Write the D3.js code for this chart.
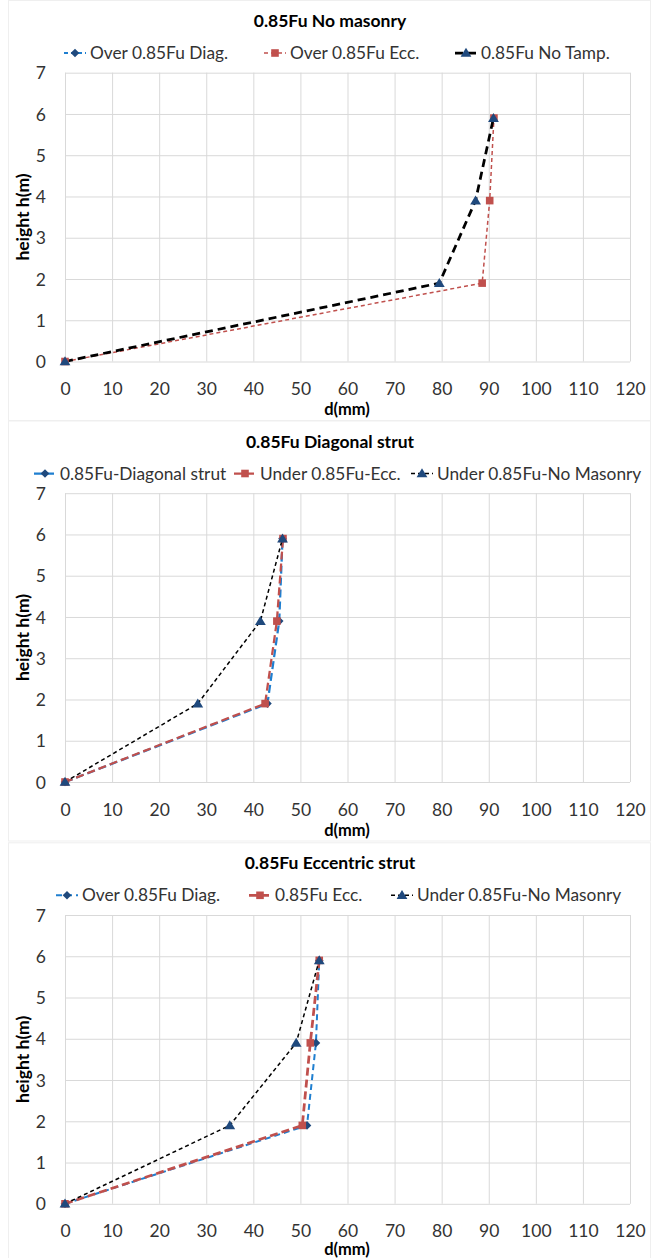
<!DOCTYPE html>
<html>
<head>
<meta charset="utf-8">
<script src="https://cdn.jsdelivr.net/npm/d3@7"></script>
<style>
  html, body { margin: 0; padding: 0; background: #fff; }
  svg { display: block; }
  text { font-family: Lato, "Open Sans", sans-serif; }
</style>
</head>
<body>
<svg id="chart" width="659" height="1258"></svg>
<script>
// Storey heights (m) at which lateral displacement was recorded
const heights = [0, 1.9, 3.9, 5.9];

// Axis ticks
const xTicks = [0, 10, 20, 30, 40, 50, 60, 70, 80, 90, 100, 110, 120];
const yTicks = [0, 1, 2, 3, 4, 5, 6, 7];

// Panel titles
const titles = ["0.85Fu No masonry", "0.85Fu Diagonal strut", "0.85Fu Eccentric strut"];

// Legend labels per panel
const legendNoMasonry = ["Over 0.85Fu Diag.", "Over 0.85Fu Ecc.", "0.85Fu No Tamp."];
const legendDiagonal = ["0.85Fu-Diagonal strut", "Under 0.85Fu-Ecc.", "Under 0.85Fu-No Masonry"];
const legendEccentric = ["Over 0.85Fu Diag.", "0.85Fu Ecc.", "Under 0.85Fu-No Masonry"];

// Displacements d (mm) at each height
const noMasonryDiag = [];
const noMasonryEcc = [0, 88.6, 90.2, 91.1];
const noMasonryNoTamp = [0, 79.5, 87.2, 91.0];

const diagonalDiag = [0, 43.0, 45.5, 46.2];
const diagonalEcc = [0, 42.5, 45.0, 46.3];
const diagonalNoMasonry = [0, 28.2, 41.5, 46.2];

const eccentricDiag = [0, 51.4, 53.3, 54.0];
const eccentricEcc = [0, 50.4, 52.1, 54.0];
const eccentricNoMasonry = [0, 35.0, 49.1, 54.0];

const BLUE = "#1F7FD0", RED = "#C0504D", BLACK = "#000000", NAVY = "#1F497D";

const panels = [
  {
    top: 0, title: titles[0], xTitleY: 409.5,
    series: [
      { label: legendNoMasonry[0], d: noMasonryDiag, color: BLUE, width: 2, dash: "4,3", marker: "diamond", lx: 64 },
      { label: legendNoMasonry[1], d: noMasonryEcc, color: RED, width: 1.5, dash: "4,3", marker: "square", lx: 264 },
      { label: legendNoMasonry[2], d: noMasonryNoTamp, color: BLACK, width: 2.75, dash: "8,5", marker: "triangle", lx: 455 }
    ]
  },
  {
    top: 420.5, title: titles[1], xTitleY: 409.5,
    series: [
      { label: legendDiagonal[0], d: diagonalDiag, color: BLUE, width: 2.25, dash: "8,4", marker: "diamond", lx: 34 },
      { label: legendDiagonal[1], d: diagonalEcc, color: RED, width: 2.25, dash: "8,4", marker: "square", lx: 234 },
      { label: legendDiagonal[2], d: diagonalNoMasonry, color: BLACK, width: 1.5, dash: "4,3", marker: "triangle", lx: 411 }
    ]
  },
  {
    top: 842.3, title: titles[2], xTitleY: 406.8,
    series: [
      { label: legendEccentric[0], d: eccentricDiag, color: BLUE, width: 2, dash: "6,4", marker: "diamond", lx: 56 },
      { label: legendEccentric[1], d: eccentricEcc, color: RED, width: 2.75, dash: "8,4", marker: "square", lx: 249 },
      { label: legendEccentric[2], d: eccentricNoMasonry, color: BLACK, width: 1.5, dash: "4,3", marker: "triangle", lx: 391 }
    ]
  }
];

const markerPath = {
  diamond: "M0,-4.3L4.3,0L0,4.3L-4.3,0Z",
  square: "M-3.8,-3.8H3.8V3.8H-3.8Z",
  triangle: "M0,-5.2L5.4,3.8H-5.4Z"
};
const markerFill = { diamond: NAVY, square: RED, triangle: NAVY };

const svg = d3.select("#chart");

panels.forEach(p => {
  const g = svg.append("g").attr("transform", `translate(0,${p.top})`);

  // faint chart-area frame
  g.append("rect").attr("x", 8.5).attr("y", 0.5).attr("width", 642).attr("height", 420)
    .attr("fill", "none").attr("stroke", "#EFEFEF");

  const x = d3.scaleLinear().domain([0, 120]).range([65, 630]);
  const y = d3.scaleLinear().domain([0, 7]).range([361.5, 72.7]);

  // gridlines + y tick labels
  const yAxis = g.append("g").attr("transform", "translate(65,0)")
    .call(d3.axisLeft(y).tickValues(yTicks).tickFormat(d3.format("d")).tickSize(-565).tickPadding(19));
  yAxis.select(".domain").remove();
  yAxis.selectAll("line").attr("stroke", "#D9D9D9").attr("stroke-width", 1);
  yAxis.selectAll("text").attr("fill", "#333").attr("font-size", 17.5).attr("dy", "0.35em");

  const xAxis = g.append("g").attr("transform", "translate(0,361.5)")
    .call(d3.axisBottom(x).tickValues(xTicks).tickFormat(d3.format("d")).tickSize(-288.8));
  xAxis.select(".domain").remove();
  xAxis.selectAll("line").attr("stroke", "#D9D9D9").attr("stroke-width", 1);
  xAxis.selectAll("text").attr("fill", "#333").attr("font-size", 17.5).attr("y", 27.5).attr("dy", "0.35em");

  // title
  g.append("text").attr("x", 330).attr("y", 21).attr("dy", "0.35em")
    .attr("text-anchor", "middle").attr("font-size", 17.5).attr("font-weight", "bold")
    .attr("fill", "#000").text(p.title);

  // axis titles
  g.append("text").attr("x", 347).attr("y", p.xTitleY).attr("dy", "0.35em")
    .attr("text-anchor", "middle").attr("font-size", 16.5).attr("font-weight", "bold")
    .attr("fill", "#000").text("d(mm)");
  g.append("text").attr("transform", "translate(23,217) rotate(-90)").attr("dy", "0.35em")
    .attr("text-anchor", "middle").attr("font-size", 17.5).attr("font-weight", "bold")
    .attr("fill", "#000").text("height h(m)");

  // series lines
  const line = d3.line().x(d => x(d[0])).y(d => y(d[1]));
  p.series.forEach(s => {
    const pts = s.d.map((v, i) => [v, heights[i]]);
    if (!pts.length) return;
    g.append("path").datum(pts).attr("d", line).attr("fill", "none")
      .attr("stroke", s.color).attr("stroke-width", s.width).attr("stroke-dasharray", s.dash);
  });
  // markers on top of lines
  p.series.forEach(s => {
    const pts = s.d.map((v, i) => [v, heights[i]]);
    g.selectAll(null).data(pts).enter().append("path")
      .attr("transform", d => `translate(${x(d[0])},${y(d[1])})`)
      .attr("d", markerPath[s.marker]).attr("fill", markerFill[s.marker]);
  });

  // legend
  p.series.forEach(s => {
    const ly = 53;
    g.append("line").attr("x1", s.lx).attr("x2", s.lx + 22).attr("y1", ly).attr("y2", ly)
      .attr("stroke", s.color).attr("stroke-width", s.width).attr("stroke-dasharray", s.dash);
    g.append("path").attr("transform", `translate(${s.lx + 11},${ly})`)
      .attr("d", markerPath[s.marker]).attr("fill", markerFill[s.marker]);
    g.append("text").attr("x", s.lx + 26).attr("y", ly).attr("dy", "0.35em")
      .attr("font-size", 17.3).attr("fill", "#333").text(s.label);
  });
});
</script>
</body>
</html>
